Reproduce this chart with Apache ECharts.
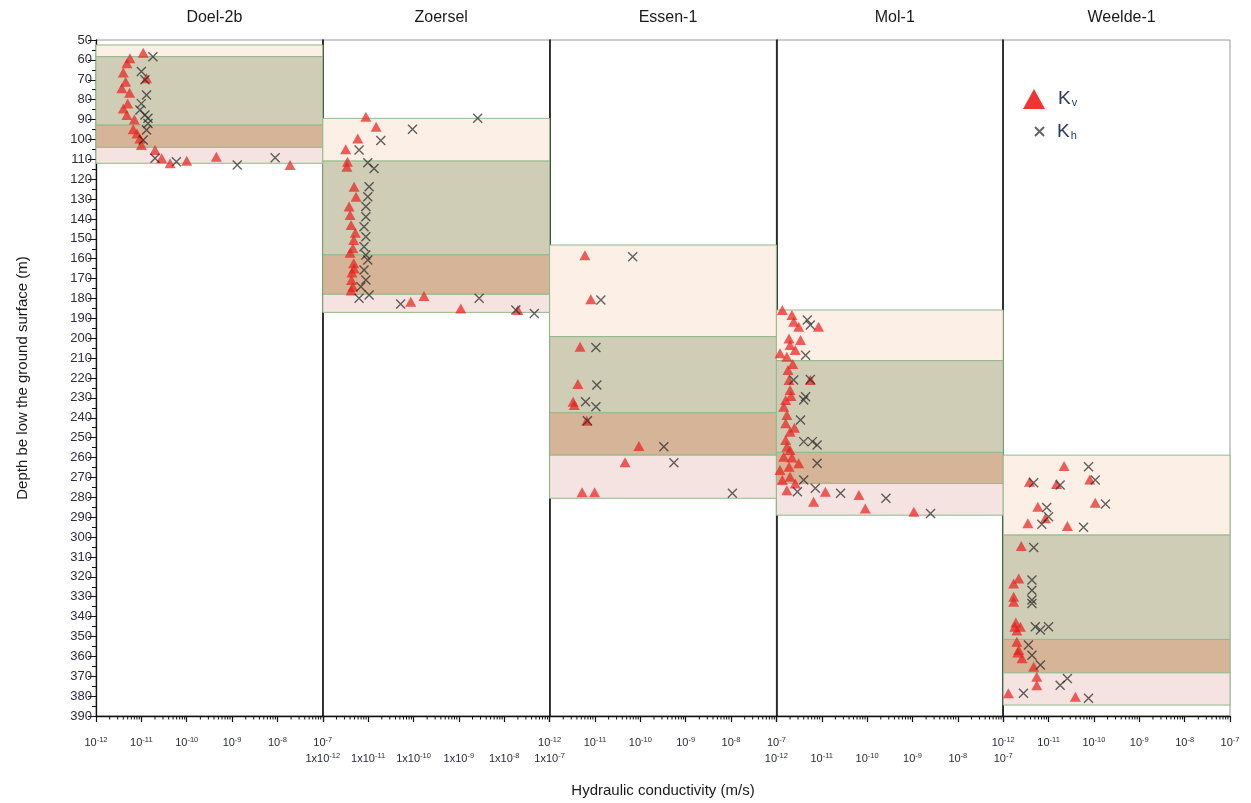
<!DOCTYPE html>
<html><head><meta charset="utf-8">
<script src="https://cdn.jsdelivr.net/npm/echarts@6/dist/echarts.min.js"></script>
<style>html,body{margin:0;padding:0;background:#fff}#c{width:1251px;height:803px}</style>
</head><body><div id="c"></div>
<script>
// ---------------- DATA ----------------
const PANEL_NAMES = ['Doel-2b', 'Zoersel', 'Essen-1', 'Mol-1', 'Weelde-1'];
const DEPTH_MIN = 50, DEPTH_MAX = 390, DEPTH_STEP = 10;
const K_MIN = 1e-12, K_MAX = 1e-7;
const X_LABEL_PREFIX = ['', '1x', '', '', ''];
const MINOR_MULT = [2, 3, 4, 5, 6, 7, 8, 9];
const MINOR_DECADES = [1e-12, 1e-11, 1e-10, 1e-9, 1e-8];

// band boundaries (depth, m): top of band 1 ... bottom of band 4
const DOEL_BANDS = [52.5, 58.4, 92.8, 104, 112];
const ZOERSEL_BANDS = [89.4, 110.9, 158.1, 177.9, 187];
const ESSEN_BANDS = [153.1, 199.2, 237.5, 258.8, 280.5];
const MOL_BANDS = [185.8, 211.3, 257.4, 273, 289];
const WEELDE_BANDS = [258.8, 299, 351.5, 368.3, 384.5];

// [K (m/s), depth (m)]
const DOEL_KV = [[1.1e-11,56.4],[5.6e-12,59.2],[4.8e-12,61.7],[4.0e-12,66.4],[1.3e-11,69.3],[4.5e-12,71],[3.7e-12,74.3],[5.5e-12,76.5],[5.0e-12,82],[4.0e-12,84.4],[4.8e-12,87.7],[7e-12,90],[6.6e-12,94.9],[8e-12,97],[9.3e-12,99.5],[1.0e-11,102.8],[2.0e-11,105.3],[2.8e-11,109.5],[4.3e-11,112],[1.0e-10,110.7],[4.5e-10,108.7],[1.9e-8,112.9]];
const DOEL_KH = [[1.8e-11,58.4],[1.0e-11,65.9],[1.2e-11,70],[1.3e-11,77.7],[1.0e-11,82],[9.3e-12,85.2],[1.2e-11,87.7],[1.4e-11,89.4],[1.4e-11,92],[1.3e-11,95.3],[1.1e-11,100.3],[2.0e-11,109.5],[5.9e-11,111.2],[1.3e-9,112.9],[8.9e-9,109.2]];

const ZOERSEL_KV = [[8.9e-12,88.6],[1.5e-11,93.6],[5.9e-12,99.5],[3.2e-12,105],[3.5e-12,111.2],[3.4e-12,113.7],[4.9e-12,123.8],[5.4e-12,128.8],[3.8e-12,133.8],[4.0e-12,138],[4.2e-12,143],[5.2e-12,147],[4.8e-12,150.6],[4.6e-12,154.8],[4.0e-12,157],[4.8e-12,162.3],[4.9e-12,164.9],[4.4e-12,167],[4.3e-12,170.7],[4.6e-12,174.1],[4.2e-12,176],[1.7e-10,178.8],[8.7e-11,181.6],[1.1e-9,185],[2.0e-8,185.8]];
const ZOERSEL_KH = [[2.6e-9,89.4],[9.5e-11,94.9],[1.9e-11,100.6],[6.3e-12,105.3],[9.8e-12,111.7],[1.35e-11,114.6],[1.05e-11,123.8],[9.8e-12,128.8],[8.9e-12,133.8],[8.9e-12,138.9],[8.1e-12,143.9],[8.9e-12,148.9],[8.1e-12,154],[8.9e-12,158.1],[9.8e-12,160.7],[8.1e-12,165.7],[8.9e-12,170.7],[6.9e-12,174.1],[1.05e-11,178.3],[6.3e-12,179.9],[5.2e-11,182.8],[2.8e-9,179.9],[1.8e-8,185.8],[4.6e-8,187.5]];

const ESSEN_KV = [[6.0e-12,158.2],[8.1e-12,180.4],[4.7e-12,204.3],[4.2e-12,223],[3.3e-12,231.9],[3.5e-12,233.6],[6.6e-12,241.5],[9.3e-11,254.2],[4.6e-11,262.4],[5.2e-12,277.5],[9.8e-12,277.5]];
const ESSEN_KH = [[6.8e-11,159],[1.35e-11,180.8],[1.05e-11,204.6],[1.1e-11,223.5],[6.2e-12,231.9],[1.05e-11,234.4],[6.8e-12,241.5],[3.3e-10,254.6],[5.5e-10,262.6],[1.07e-8,278]];

const MOL_KV = [[1.35e-12,185.8],[2.2e-12,188.3],[2.4e-12,191.7],[3.1e-12,194.2],[8.5e-12,194.2],[1.9e-12,200.1],[3.4e-12,200.9],[2.0e-12,203.4],[2.6e-12,205.9],[1.2e-12,207.6],[1.7e-12,209.3],[2.3e-12,213],[1.8e-12,216],[1.9e-12,221],[5.6e-12,221],[2.0e-12,226],[2.1e-12,229],[1.6e-12,231.1],[1.45e-12,234.4],[1.7e-12,238.6],[1.6e-12,242.8],[2.5e-12,245],[2.0e-12,247],[1.6e-12,251.2],[1.7e-12,254.6],[2.0e-12,256.2],[1.45e-12,259.6],[2.2e-12,260],[3.1e-12,262.9],[1.9e-12,264.6],[1.2e-12,266.3],[2.0e-12,269.7],[1.35e-12,271.3],[2.6e-12,273],[1.7e-12,276.4],[1.2e-11,277.2],[6.6e-11,278.9],[6.6e-12,282.2],[9.1e-11,285.6],[1.07e-9,287.3]];
const MOL_KH = [[4.8e-12,190.8],[5.6e-12,193.4],[4.4e-12,208.5],[2.4e-12,221],[5.6e-12,220.7],[4.4e-12,229.4],[4.0e-12,231.1],[3.4e-12,241.1],[4.0e-12,252],[6.2e-12,252],[7.9e-12,253.7],[7.9e-12,262.9],[4.0e-12,271.3],[7.2e-12,275.5],[2.9e-12,277.2],[2.6e-11,278],[2.6e-10,280.5],[2.5e-9,288.1]];

const WEELDE_KV = [[2.2e-11,264.3],[3.8e-12,272.2],[1.5e-11,273.3],[8.1e-11,271],[5.8e-12,284.7],[1.07e-10,282.7],[8.5e-12,290.6],[3.5e-12,293.1],[2.6e-11,294.5],[2.5e-12,304.5],[2.2e-12,320.8],[1.7e-12,323.3],[1.7e-12,330],[1.7e-12,332.5],[1.9e-12,343],[1.8e-12,345.1],[2.4e-12,345.1],[2.0e-12,347],[2.0e-12,352.7],[2.2e-12,356.8],[2.1e-12,358],[2.6e-12,361],[4.7e-12,365.2],[5.5e-12,370.3],[5.5e-12,374.5],[1.3e-12,378.6],[3.9e-11,380.3]];
const WEELDE_KH = [[7.6e-11,264.6],[4.7e-12,272.7],[1.8e-11,273.8],[1.07e-10,271.3],[9.1e-12,285.1],[1.8e-10,283.4],[1.0e-11,289.8],[7.1e-12,293.5],[5.9e-11,295.1],[4.7e-12,305.2],[4.3e-12,321.6],[4.3e-12,326.7],[4.3e-12,331.7],[4.3e-12,333.4],[5.1e-12,345.1],[1.0e-11,345.1],[6.6e-12,346.8],[3.6e-12,354.3],[4.3e-12,359.4],[6.6e-12,364.4],[2.6e-11,371.1],[1.8e-11,374.5],[2.8e-12,378.6],[7.6e-11,381.1]];

const BANDS = [DOEL_BANDS, ZOERSEL_BANDS, ESSEN_BANDS, MOL_BANDS, WEELDE_BANDS];
const KV = [DOEL_KV, ZOERSEL_KV, ESSEN_KV, MOL_KV, WEELDE_KV];
const KH = [DOEL_KH, ZOERSEL_KH, ESSEN_KH, MOL_KH, WEELDE_KH];

// ---------------- STYLE / LAYOUT ----------------
const FONT = '"Liberation Sans", Arial, Helvetica, sans-serif';
const BAND_FILL = ['#fcefe5', '#d0cdb6', '#d5b498', '#f4e3e0'];
const BAND_STROKE = '#93b98a';
const GRID_LEFT = 96, GRID_W = 226.8, GRID_TOP = 40, GRID_H = 676;
const LABEL_ROW = [20, 36, 20, 36, 20];
const TEXT = '#2b2b3a';

const chart = echarts.init(document.getElementById('c'), null, {renderer: 'canvas'});

const minorTickValues = [];
MINOR_DECADES.forEach(d => MINOR_MULT.forEach(m => minorTickValues.push([m * d])));

const grids = [], xAxes = [], yAxes = [], series = [], titles = [];
PANEL_NAMES.forEach((name, i) => {
  const left = GRID_LEFT + i * GRID_W;
  grids.push({left, top: GRID_TOP, width: GRID_W, height: GRID_H, show: true,
    borderColor: '#9a9a9a', borderWidth: 1, backgroundColor: 'transparent', outerBoundsMode: 'none', containLabel: false});
  titles.push({text: name, left: left + GRID_W / 2, top: 5, textAlign: 'center',
    textStyle: {fontSize: 16, fontWeight: 'normal', color: '#1a1a1a', fontFamily: FONT}});
  const prefix = X_LABEL_PREFIX[i];
  xAxes.push({
    type: 'log', logBase: 10, gridIndex: i, min: K_MIN, max: K_MAX, position: 'bottom',
    axisLine: {show: true, onZero: false, lineStyle: {color: '#111', width: 1.3}},
    axisTick: {show: true, length: 6, inside: false, lineStyle: {color: '#111', width: 1.2}},
    minorTick: {show: false}, splitLine: {show: false}, minorSplitLine: {show: false},
    axisLabel: {
      margin: LABEL_ROW[i], hideOverlap: false, showMinLabel: true, showMaxLabel: true,
      formatter: v => '{b|' + prefix + '10}{s|' + Math.round(Math.log10(v)) + '}',
      rich: {
        b: {fontSize: 11, color: TEXT, fontFamily: FONT, lineHeight: 14},
        s: {fontSize: 7.5, color: TEXT, fontFamily: FONT, lineHeight: 8, verticalAlign: 'top'}
      }
    },
    name: i === 2 ? 'Hydraulic conductivity (m/s)' : '', nameLocation: 'middle', nameGap: 67,
    nameTextStyle: {fontSize: 15, color: '#1a1a1a', fontFamily: FONT}
  });
  yAxes.push({
    type: 'value', gridIndex: i, inverse: true, min: DEPTH_MIN, max: DEPTH_MAX, interval: DEPTH_STEP,
    axisLine: {show: true, onZero: false, lineStyle: {color: '#111', width: i === 0 ? 1.3 : 1.6}},
    axisTick: {show: i === 0, length: 8, lineStyle: {color: '#111'}},
    minorTick: {show: i === 0, splitNumber: 2, length: 4, lineStyle: {color: '#111'}},
    splitLine: {show: false}, minorSplitLine: {show: false},
    axisLabel: {show: i === 0, margin: 4, fontSize: 13, color: TEXT, fontFamily: FONT, hideOverlap: false},
    name: i === 0 ? 'Depth be low the ground surface (m)' : '', nameLocation: 'middle', nameGap: 66,
    nameTextStyle: {fontSize: 15, color: '#1a1a1a', fontFamily: FONT}
  });
  const b = BANDS[i];
  const bandData = [0, 1, 2, 3].map(k => [b[k], b[k + 1], k]);
  series.push({
    type: 'custom', xAxisIndex: i, yAxisIndex: i, z: 1, silent: true,
    data: bandData,
    renderItem: (params, api) => {
      const p1 = api.coord([K_MIN, api.value(0)]);
      const p2 = api.coord([K_MAX, api.value(1)]);
      return {type: 'rect', shape: {x: p1[0], y: p1[1], width: p2[0] - p1[0], height: p2[1] - p1[1]},
        style: {fill: BAND_FILL[api.value(2)], stroke: BAND_STROKE, lineWidth: 1}};
    }
  });
  series.push({
    type: 'custom', xAxisIndex: i, yAxisIndex: i, z: 5, silent: true, clip: false,
    data: minorTickValues,
    renderItem: (params, api) => {
      const p = api.coord([api.value(0), DEPTH_MAX]);
      return {type: 'line', shape: {x1: p[0], y1: p[1], x2: p[0], y2: p[1] + 3.5},
        style: {stroke: '#111', lineWidth: 1}};
    }
  });
  series.push({
    name: 'Kv', type: 'scatter', xAxisIndex: i, yAxisIndex: i, z: 3,
    symbol: 'triangle', symbolSize: [11, 10],
    itemStyle: {color: 'rgba(232,30,28,0.88)'},
    data: KV[i]
  });
  series.push({
    name: 'Kh', type: 'scatter', xAxisIndex: i, yAxisIndex: i, z: 4,
    symbol: 'path://M0,0L10,10M10,0L0,10', symbolSize: 9,
    itemStyle: {color: 'rgba(0,0,0,0)', borderColor: 'rgba(40,40,40,0.9)', borderWidth: 1.4},
    data: KH[i]
  });
});

const legendText = {
  rich: {
    k: {fontSize: 19, color: '#2b3a55', fontFamily: FONT, padding: [0, 0, 0, 8]},
    s: {fontSize: 11, color: '#2b3a55', fontFamily: FONT, verticalAlign: 'bottom', padding: [8, 0, 0, 1]}
  }
};

chart.setOption({
  animation: false,
  backgroundColor: '#fff',
  title: titles,
  grid: grids,
  xAxis: xAxes,
  yAxis: yAxes,
  legend: [
    {data: [{name: 'Kv', icon: 'triangle', itemStyle: {color: '#f00000'}}], left: 1018, top: 84,
      itemWidth: 22, itemHeight: 20, selectedMode: false,
      formatter: () => '{k|K}{s|v}', textStyle: legendText},
    {data: ['Kh'], left: 1029, top: 117, itemWidth: 9, itemHeight: 9, selectedMode: false,
      formatter: () => '{k|K}{s|h}', textStyle: legendText}
  ],
  series
});
</script></body></html>
